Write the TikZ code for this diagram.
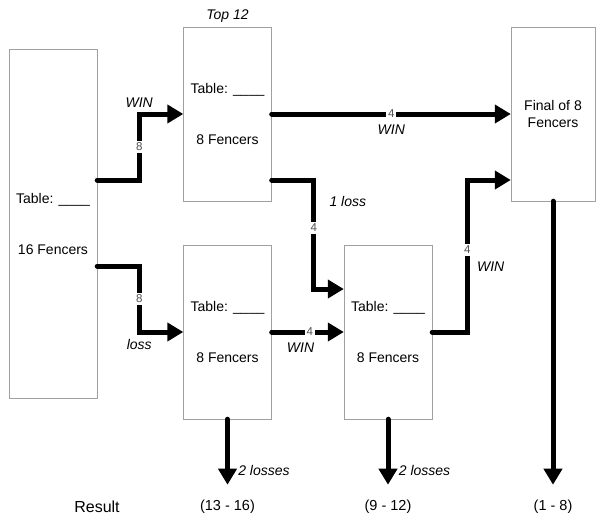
\documentclass[tikz,border=0pt]{standalone}
\usepackage{fontspec}
\setmainfont{Liberation Sans}
\usepackage{xcolor}
\definecolor{boxline}{RGB}{160,160,160}
\definecolor{countgray}{RGB}{80,80,80}
\usetikzlibrary{arrows.meta}

\begin{document}
\begin{tikzpicture}[x=1pt, y=-1pt,
    pool/.style={draw=boxline, minimum width=88pt, minimum height=174pt, inner sep=0pt, align=center, font=\fontsize{14}{17}\selectfont},
    flow/.style={line width=5pt, line cap=round, line join=miter, -{Triangle[length=16pt,width=18pt]}},
    count/.style={fill=white, inner sep=2pt, text=countgray, font=\fontsize{11.5}{12}\selectfont},
    verdict/.style={font=\fontsize{14}{16}\selectfont\itshape},
    result/.style={font=\fontsize{14.5}{16}\selectfont}]
    \useasboundingbox (0,0) rectangle (596,519);

    % tables
    \node[pool, minimum height=349pt] (all) at (53,223.5) {Table: \_\_\_\_\\[34pt]16 Fencers};
    \node[pool] (top) at (227.5,114) {Table: \_\_\_\_\\[34pt]8 Fencers};
    \node[pool] (low) at (227.5,332) {Table: \_\_\_\_\\[34pt]8 Fencers};
    \node[pool] (mid) at (388,332) {Table: \_\_\_\_\\[34pt]8 Fencers};
    \node[pool, minimum width=84pt] (final) at (553,114) {Final of 8\\Fencers};
    \node[verdict, above=1pt] (toplabel) at (top.north) {Top 12};

    % results
    \node[result, font=\fontsize{16}{18}\selectfont] (res) at (97,507) {Result};
    \node[result] (r1) at (low.south |- 0,507) {(13 - 16)};
    \node[result] (r2) at (mid.south |- 0,507) {(9 - 12)};
    \node[result] (r3) at (final.south |- 0,507) {(1 - 8)};

    % bouts
    \draw[flow] ([yshift=43.5pt]all.east) -- ++(42,0) |- node[pos=0.25, count] {8} node[pos=0.5, verdict, above=1pt] {WIN} (top.west);
    \draw[flow] ([yshift=-42.5pt]all.east) -- ++(42,0) |- node[pos=0.25, count] {8} node[pos=0.5, verdict, below=2pt] {loss} (low.west);
    \draw[flow] (top.east) -- node[pos=0.5, count] {4} node[pos=0.5, verdict, below=5pt] {WIN} (final.west);
    \draw[flow] ([yshift=-66pt]top.east) -- ++(42,0) |- node[pos=0.22, count] {4} node[pos=0.1, verdict, right=10pt] {1 loss} ([yshift=43pt]mid.west);
    \draw[flow] (low.east) -- node[pos=0.53, count] {4} node[pos=0.4, verdict, below=5pt] {WIN} (mid.west);
    \draw[flow] (mid.east) -- ++(35,0) |- node[pos=0.27, count] {4} node[pos=0.215, verdict, right=4pt] {WIN} ([yshift=-66pt]final.west);

    % eliminated
    \draw[flow] (low.south) -- node[pos=0.78, verdict, right=5pt] {2 losses} ([yshift=12pt]r1.north);
    \draw[flow] (mid.south) -- node[pos=0.78, verdict, right=5pt] {2 losses} ([yshift=12pt]r2.north);
    \draw[flow] (final.south) -- ([yshift=12pt]r3.north);
\end{tikzpicture}
\end{document}
